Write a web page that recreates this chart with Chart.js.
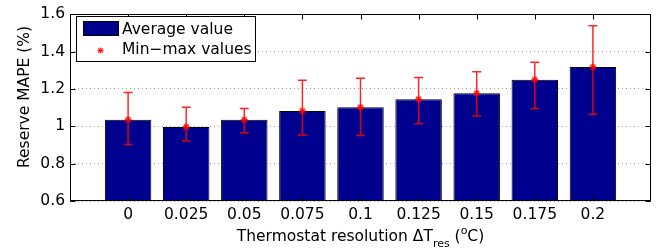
<!DOCTYPE html>
<html>
<head>
<meta charset="utf-8">
<script src="https://cdn.jsdelivr.net/npm/chart.js@4"></script>
<style>
  html, body { margin: 0; padding: 0; background: #fff; }
  canvas { display: block; }
</style>
</head>
<body>
<canvas id="mapeChart" width="657" height="248"></canvas>
<script>
// thermostat resolutions (blank slots at the ends pad the axis like matlab does)
const resolutions = ['', '0', '0.025', '0.05', '0.075', '0.1', '0.125', '0.15', '0.175', '0.2', ''];
const avgValues = [null, 1.035, 0.997, 1.035, 1.082, 1.102, 1.145, 1.177, 1.25, 1.318, null];
const minValues = [null, 0.902, 0.922, 0.965, 0.953, 0.951, 1.014, 1.055, 1.095, 1.064, null];
const maxValues = [null, 1.181, 1.102, 1.096, 1.247, 1.257, 1.261, 1.292, 1.343, 1.539, null];
const yTicks = [0.6, 0.8, 1.0, 1.2, 1.4, 1.6];

const FONT = 'DejaVu Sans';
const NAVY = '#00008F';
const RED = 'rgba(255, 0, 0, 0.85)';

function drawStar(ctx, x, y, r) {
    ctx.beginPath();
    for (let k = 0; k < 4; k++) {
        const a = k * Math.PI / 4;
        ctx.moveTo(x - r * Math.cos(a), y - r * Math.sin(a));
        ctx.lineTo(x + r * Math.cos(a), y + r * Math.sin(a));
    }
    ctx.stroke();
}

// error bars, inner ticks, axes box, legend and titles
const matlabLook = {
    id: 'matlabLook',
    afterDatasetsDraw(chart) {
        const ctx = chart.ctx;
        const yScale = chart.scales.y;
        const xScale = chart.scales.x;
        const area = chart.chartArea;
        const bars = chart.getDatasetMeta(1).data;

        // min-max whiskers
        ctx.save();
        ctx.strokeStyle = RED;
        ctx.lineWidth = 1.5;
        bars.forEach((bar, i) => {
            if (minValues[i] === null) return;
            const x = bar.x;
            const yLo = yScale.getPixelForValue(minValues[i]);
            const yHi = yScale.getPixelForValue(maxValues[i]);
            ctx.beginPath();
            ctx.moveTo(x, yLo);
            ctx.lineTo(x, yHi);
            ctx.moveTo(x - 4.5, yLo);
            ctx.lineTo(x + 4.5, yLo);
            ctx.moveTo(x - 4.5, yHi);
            ctx.lineTo(x + 4.5, yHi);
            ctx.stroke();
        });
        ctx.restore();

        // axes box
        ctx.save();
        ctx.strokeStyle = '#000';
        ctx.lineWidth = 1;
        const l = Math.round(area.left) + 0.5;
        const t = Math.round(area.top) + 0.5;
        const r = Math.round(area.right) - 0.5;
        const b = Math.round(area.bottom) - 0.5;
        ctx.strokeRect(l, t, r - l, b - t);

        // inward ticks
        ctx.beginPath();
        yTicks.forEach(v => {
            const y = Math.round(yScale.getPixelForValue(v)) + 0.5;
            ctx.moveTo(l, y); ctx.lineTo(l + 5, y);
            ctx.moveTo(r, y); ctx.lineTo(r - 5, y);
        });
        resolutions.forEach((lab, i) => {
            if (lab === '') return;
            const x = Math.round(xScale.getPixelForValue(i)) + 0.5;
            ctx.moveTo(x, t); ctx.lineTo(x, t + 5);
            ctx.moveTo(x, b); ctx.lineTo(x, b - 5);
        });
        ctx.stroke();
        ctx.restore();
    },
    afterDraw(chart) {
        const ctx = chart.ctx;
        const area = chart.chartArea;

        // legend
        ctx.save();
        ctx.fillStyle = '#fff';
        ctx.fillRect(76.5, 16.5, 179, 45);
        ctx.strokeStyle = '#000';
        ctx.lineWidth = 1;
        ctx.strokeRect(76.5, 16.5, 179, 45);
        ctx.fillStyle = NAVY;
        ctx.fillRect(83.5, 21.5, 35, 14);
        ctx.strokeRect(83.5, 21.5, 35, 14);
        ctx.strokeStyle = RED;
        ctx.lineWidth = 1.3;
        drawStar(ctx, 100.5, 50.5, 3);
        ctx.fillStyle = '#000';
        ctx.font = '15.5px "' + FONT + '"';
        ctx.textBaseline = 'middle';
        ctx.textAlign = 'left';
        ctx.fillText('Average value', 122, 29.5);
        ctx.fillText('Min\u2212max values', 122, 50);
        ctx.restore();

        // y title
        ctx.save();
        ctx.translate(25, 97);
        ctx.rotate(-Math.PI / 2);
        ctx.font = '15.5px "' + FONT + '"';
        ctx.fillStyle = '#000';
        ctx.textAlign = 'center';
        ctx.textBaseline = 'middle';
        ctx.fillText('Reserve MAPE (%)', 0, 0);
        ctx.restore();

        // x title with subscript / superscript
        ctx.save();
        const big = '15.5px "' + FONT + '"';
        const small = '11px "' + FONT + '"';
        const parts = [
            { s: 'Thermostat resolution \u0394T', f: big, dy: 0 },
            { s: 'res', f: small, dy: 6 },
            { s: ' (', f: big, dy: 0 },
            { s: 'o', f: small, dy: -7 },
            { s: 'C)', f: big, dy: 0 }
        ];
        let total = 0;
        parts.forEach(p => { ctx.font = p.f; p.w = ctx.measureText(p.s).width; total += p.w; });
        let x = (area.left + area.right) / 2 - total / 2;
        const base = 241;
        ctx.fillStyle = '#000';
        ctx.textBaseline = 'alphabetic';
        ctx.textAlign = 'left';
        parts.forEach(p => {
            ctx.font = p.f;
            ctx.fillText(p.s, x, base + p.dy);
            x += p.w;
        });
        ctx.restore();
    }
};

const ctx = document.getElementById('mapeChart').getContext('2d');
new Chart(ctx, {
    data: {
        labels: resolutions,
        datasets: [
            {
                type: 'line',
                label: 'Min-max values',
                data: avgValues,
                showLine: false,
                pointStyle: 'star',
                pointRadius: 3.5,
                pointBorderWidth: 1.5,
                pointBorderColor: RED,
                pointBackgroundColor: RED,
                order: 1
            },
            {
                type: 'bar',
                label: 'Average value',
                data: avgValues,
                backgroundColor: NAVY,
                borderColor: '#000',
                borderWidth: 1,
                categoryPercentage: 1.0,
                barPercentage: 0.8,
                order: 2
            }
        ]
    },
    options: {
        responsive: false,
        animation: false,
        events: [],
        layout: { padding: { top: 13, right: 6, left: 0, bottom: 0 } },
        plugins: {
            legend: { display: false },
            tooltip: { enabled: false }
        },
        scales: {
            x: {
                offset: false,
                grid: { display: false, drawTicks: false },
                border: { display: false },
                ticks: {
                    color: '#000',
                    font: { family: FONT, size: 15.5 },
                    padding: 5,
                    maxRotation: 0,
                    autoSkip: false
                },
                afterFit(scale) { scale.height = 47; }
            },
            y: {
                min: 0.6,
                max: 1.6,
                grid: { color: '#a0a0a0', lineWidth: 1, drawTicks: false },
                border: { display: false, dash: [1, 3] },
                ticks: {
                    stepSize: 0.2,
                    color: '#000',
                    font: { family: FONT, size: 15.5 },
                    padding: 5,
                    callback: v => String(Number(v.toFixed(1)))
                },
                afterFit(scale) { scale.width = 70; }
            }
        }
    },
    plugins: [matlabLook]
});
</script>
</body>
</html>
